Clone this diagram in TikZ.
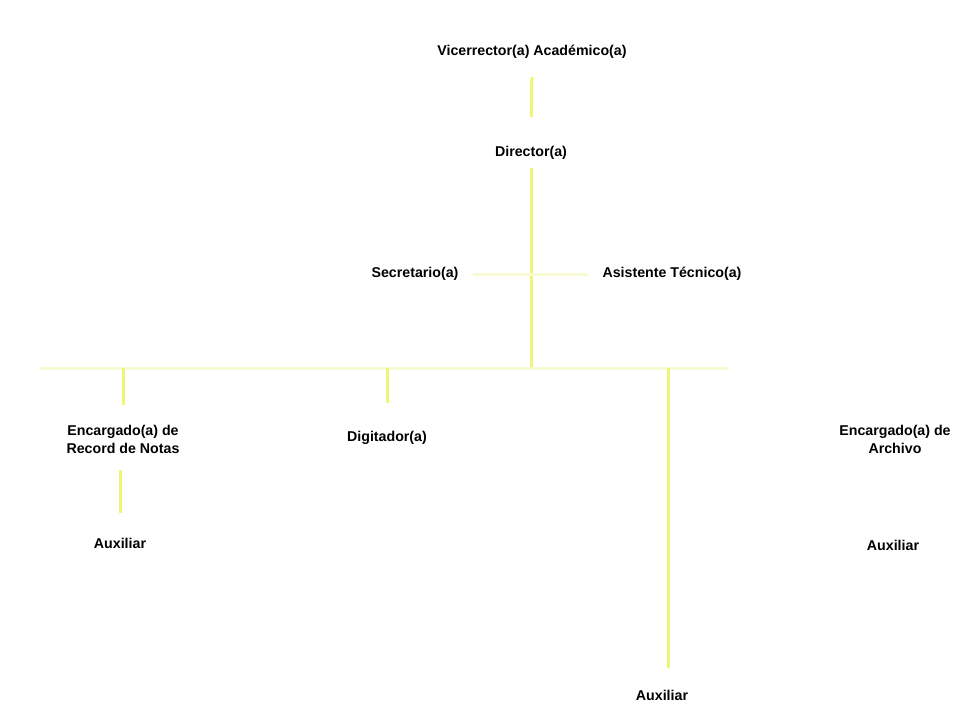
\documentclass[tikz,border=0pt]{standalone}
\usepackage{fontspec}
\setmainfont{Liberation Sans}
\definecolor{linebright}{RGB}{238,245,120}
\definecolor{linefaint}{RGB}{248,250,212}

\begin{document}
\begin{tikzpicture}[x=0.5pt,y=-0.5pt]
\newcommand{\myfontpost}{%
\fontsize{7.1}{9}\selectfont\bfseries
}\tikzset{
post/.style={inner sep=0pt,align=center,font=\myfontpost},
link/.style={draw=linebright,line width=1.5pt},
linkfaint/.style={draw=linefaint,line width=1.5pt}
}%Page
\useasboundingbox (0,0) rectangle (954,723);
%Centres of the posts
\coordinate (cVice) at (532,52);
\coordinate (cDirector) at (531,153);
\coordinate (cSecretario) at (415,274);
\coordinate (cAsistente) at (672,274);
\coordinate (cRecord) at (123,439);
\coordinate (cDigitador) at (387,438);
\coordinate (cArchivo) at (895,439);
\coordinate (cAuxRecord) at (120,543);
\coordinate (cAuxArchivo) at (893,545);
\coordinate (cAuxBottom) at (662,695);
%Posts
\node [post] (vice) at (cVice) {Vicerrector(a) Académico(a)};
\node [post] (director) at (cDirector) {Director(a)};
\node [post] (secretario) at (cSecretario) {Secretario(a)};
\node [post] (asistente) at (cAsistente) {Asistente Técnico(a)};
\node [post] (record) at (cRecord) {Encargado(a) de\\Record de Notas};
\node [post] (digitador) at (cDigitador) {Digitador(a)};
\node [post] (archivo) at (cArchivo) {Encargado(a) de\\Archivo};
\node [post] (auxRecord) at (cAuxRecord) {Auxiliar};
\node [post] (auxArchivo) at (cAuxArchivo) {Auxiliar};
\node [post] (auxBottom) at (cAuxBottom) {Auxiliar};
%Main line
\draw [link,shorten <=9pt,shorten >=14.5pt] (vice.south) -- (director.north);
\coordinate (jTrunk) at (531,368);
\draw [link,shorten <=4pt] (director.south) -- (jTrunk);
%Staff line
\draw [linkfaint,shorten <=7pt,shorten >=7pt] (secretario.east) -- (asistente.west);
%Bus to the departments
\coordinate (busL) at (40,368);
\coordinate (busR) at (728,368);
\draw [linkfaint] (busL) -- (busR);
\coordinate (jRecord) at (123,368);
\coordinate (jDigitador) at (387,368);
\coordinate (jAux) at (668,368);
\draw [link,shorten >=9.5pt] (jRecord) -- (record.north);
\draw [link,shorten >=14pt] (jDigitador) -- (digitador.north);
\draw [link,shorten >=10.5pt] (jAux) -- (jAux |- auxBottom.north);
%Under the departments
\draw [link,shorten <=8pt,shorten >=12pt] (record.south -| auxRecord) -- (auxRecord.north);
\end{tikzpicture}
\end{document}
